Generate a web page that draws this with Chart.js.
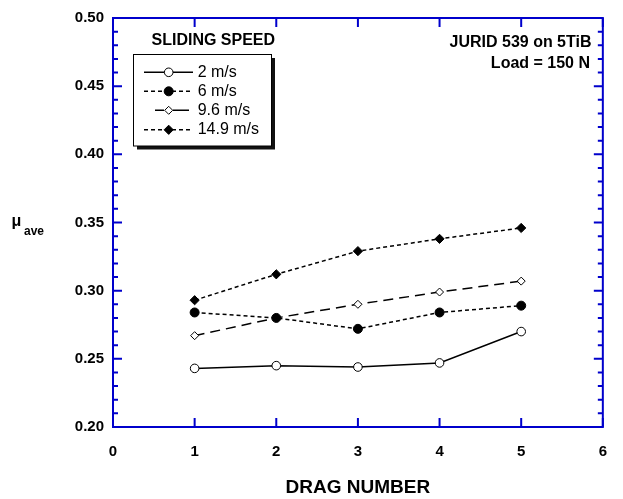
<!DOCTYPE html>
<html><head><meta charset="utf-8">
<script src="https://cdn.jsdelivr.net/npm/chart.js@4/dist/chart.umd.min.js"></script>
<style>html,body{margin:0;padding:0;background:#fff}#wrap{width:623px;height:499px}</style>
</head><body><div id="wrap"><canvas id="c" width="623" height="499"></canvas></div>
<script>
// ---- data ----
const dragNumbers = [1, 2, 3, 4, 5];
const speedLabels = ['2 m/s', '6 m/s', '9.6 m/s', '14.9 m/s'];
const mu2   = [0.243, 0.245, 0.244, 0.247, 0.270];
const mu6   = [0.284, 0.280, 0.272, 0.284, 0.289];
const mu96  = [0.267, 0.280, 0.290, 0.299, 0.307];
const mu149 = [0.293, 0.312, 0.329, 0.338, 0.346];
const xTickValues = [0, 1, 2, 3, 4, 5, 6];
const yTickValues = [0.20, 0.25, 0.30, 0.35, 0.40, 0.45, 0.50];
const yMinorStep = 0.01;
const legendTitle = 'SLIDING SPEED';
const noteLines = ['JURID 539 on 5TiB', 'Load = 150 N'];
const xTitle = 'DRAG NUMBER';

const FONT = 'Liberation Sans, Arial, Helvetica, sans-serif';
const AXIS = 'rgb(0,0,204)';

function pts(arr) { return dragNumbers.map((x, i) => ({x: x, y: arr[i]})); }

const datasets = [
  {label: speedLabels[0], data: pts(mu2), borderColor: '#000', borderWidth: 1.5, borderDash: [],
   pointStyle: 'circle', pointRadius: 4.3, pointBackgroundColor: '#fff', pointBorderColor: '#000', pointBorderWidth: 1},
  {label: speedLabels[1], data: pts(mu6), borderColor: '#000', borderWidth: 1.5, borderDash: [4, 3],
   pointStyle: 'circle', pointRadius: 4.5, pointBackgroundColor: '#000', pointBorderColor: '#000', pointBorderWidth: 1},
  {label: speedLabels[2], data: pts(mu96), borderColor: '#000', borderWidth: 1.5, borderDash: [10, 6],
   pointStyle: 'rectRot', pointRadius: 4, pointBackgroundColor: '#fff', pointBorderColor: '#000', pointBorderWidth: 1},
  {label: speedLabels[3], data: pts(mu149), borderColor: '#000', borderWidth: 1.5, borderDash: [4, 3],
   pointStyle: 'rectRot', pointRadius: 4.6, pointBackgroundColor: '#000', pointBorderColor: '#000', pointBorderWidth: 1}
];

function marker(ctx, ds, x, y) {
  ctx.save();
  ctx.setLineDash([]);
  ctx.fillStyle = ds.pointBackgroundColor;
  ctx.strokeStyle = ds.pointBorderColor;
  ctx.lineWidth = ds.pointBorderWidth;
  const r = ds.pointRadius;
  ctx.beginPath();
  if (ds.pointStyle === 'circle') {
    ctx.arc(x, y, r, 0, Math.PI * 2);
  } else {
    ctx.moveTo(x, y - r); ctx.lineTo(x + r, y); ctx.lineTo(x, y + r); ctx.lineTo(x - r, y); ctx.closePath();
  }
  ctx.fill(); ctx.stroke();
  ctx.restore();
}

const framePlugin = {
  id: 'frame',
  beforeDatasetsDraw(chart) {
    const ctx = chart.ctx, a = chart.chartArea;
    const xs = chart.scales.x, ys = chart.scales.y;
    ctx.save();
    ctx.strokeStyle = AXIS;
    ctx.lineWidth = 2;
    ctx.strokeRect(a.left, a.top, a.right - a.left, a.bottom - a.top);
    ctx.beginPath();
    // x ticks (bottom and top, inward)
    xTickValues.forEach(v => {
      const px = xs.getPixelForValue(v);
      ctx.moveTo(px, a.bottom); ctx.lineTo(px, a.bottom - 9);
      ctx.moveTo(px, a.top); ctx.lineTo(px, a.top + 9);
    });
    // y ticks major & minor (left and right, inward)
    const y0 = yTickValues[0], y1 = yTickValues[yTickValues.length - 1];
    const n = Math.round((y1 - y0) / yMinorStep);
    for (let i = 0; i <= n; i++) {
      const v = y0 + i * yMinorStep;
      const py = ys.getPixelForValue(v);
      const len = (i % 5 === 0) ? 9 : 5;
      ctx.moveTo(a.left, py); ctx.lineTo(a.left + len, py);
      ctx.moveTo(a.right, py); ctx.lineTo(a.right - len, py);
    }
    ctx.stroke();
    ctx.restore();
  },
  afterDraw(chart) {
    const ctx = chart.ctx, a = chart.chartArea;
    const ys = chart.scales.y;
    ctx.save();
    // y axis title
    ctx.fillStyle = '#000';
    ctx.textBaseline = 'middle';
    ctx.textAlign = 'center';
    ctx.font = 'bold 16px ' + FONT;
    const yMid = ys.getPixelForValue(0.35);
    ctx.fillText('\u03BC', 16.5, yMid - 1);
    ctx.textAlign = 'left';
    ctx.font = 'bold 12px ' + FONT;
    ctx.fillText('ave', 24, yMid + 9);

    // note
    ctx.textAlign = 'right';
    ctx.font = 'bold 16px ' + FONT;
    ctx.fillText(noteLines[0], 591.5, 42.7);
    ctx.fillText(noteLines[1], 590, 63.3);

    // legend title
    ctx.textAlign = 'center';
    ctx.fillText(legendTitle, 213.3, 40.7);

    // legend box with shadow
    const bx = 133.5, by = 54.5, bw = 138, bh = 91.5;
    ctx.fillStyle = '#111';
    ctx.fillRect(bx + 3.5, by + 3.5, bw, bh);
    ctx.fillStyle = '#fff';
    ctx.fillRect(bx, by, bw, bh);
    ctx.strokeStyle = '#000';
    ctx.lineWidth = 1;
    ctx.strokeRect(bx, by, bw, bh);

    const rows = [72.3, 91.3, 110.3, 129.8];
    ctx.font = '16px ' + FONT;
    chart.data.datasets.forEach((ds, i) => {
      const y = rows[i];
      ctx.save();
      ctx.strokeStyle = ds.borderColor;
      ctx.lineWidth = ds.borderWidth;
      ctx.beginPath();
      if (i === 2) {
        ctx.setLineDash([]);
        ctx.moveTo(155, y); ctx.lineTo(164, y);
        ctx.moveTo(173, y); ctx.lineTo(189, y);
      } else {
        ctx.setLineDash(ds.borderDash);
        ctx.moveTo(144, y); ctx.lineTo(193, y);
      }
      ctx.stroke();
      ctx.restore();
      marker(ctx, ds, 168.7, y);
      ctx.fillStyle = '#000';
      ctx.textAlign = 'left';
      ctx.textBaseline = 'middle';
      ctx.fillText(ds.label, 197.7, y);
    });
    ctx.restore();
  }
};

new Chart(document.getElementById('c'), {
  type: 'line',
  data: {datasets: datasets},
  options: {
    responsive: false,
    devicePixelRatio: 1,
    animation: false,
    layout: {padding: {left: 0, right: 10, top: 16, bottom: 0}},
    plugins: {legend: {display: false}, tooltip: {enabled: false}},
    scales: {
      x: {
        type: 'linear', min: 0, max: 6,
        afterFit(s) { s.height = 72; },
        afterBuildTicks(s) { s.ticks = xTickValues.map(v => ({value: v})); },
        grid: {display: false, drawTicks: false},
        border: {display: false},
        ticks: {color: '#000', font: {family: FONT, size: 15, weight: 'bold'}, padding: 16,
                maxRotation: 0, callback: v => String(v)},
        title: {display: true, text: xTitle, color: '#000', font: {family: FONT, size: 19, weight: 'bold'},
                padding: {top: 0, bottom: 0}}
      },
      y: {
        type: 'linear', min: 0.20, max: 0.50,
        afterFit(s) { s.width = 113; },
        afterBuildTicks(s) { s.ticks = yTickValues.map(v => ({value: v})); },
        grid: {display: false, drawTicks: false},
        border: {display: false},
        ticks: {color: '#000', font: {family: FONT, size: 15, weight: 'bold'}, padding: 9,
                callback: v => Number(v).toFixed(2)}
      }
    }
  },
  plugins: [framePlugin]
});
</script>
</body></html>
